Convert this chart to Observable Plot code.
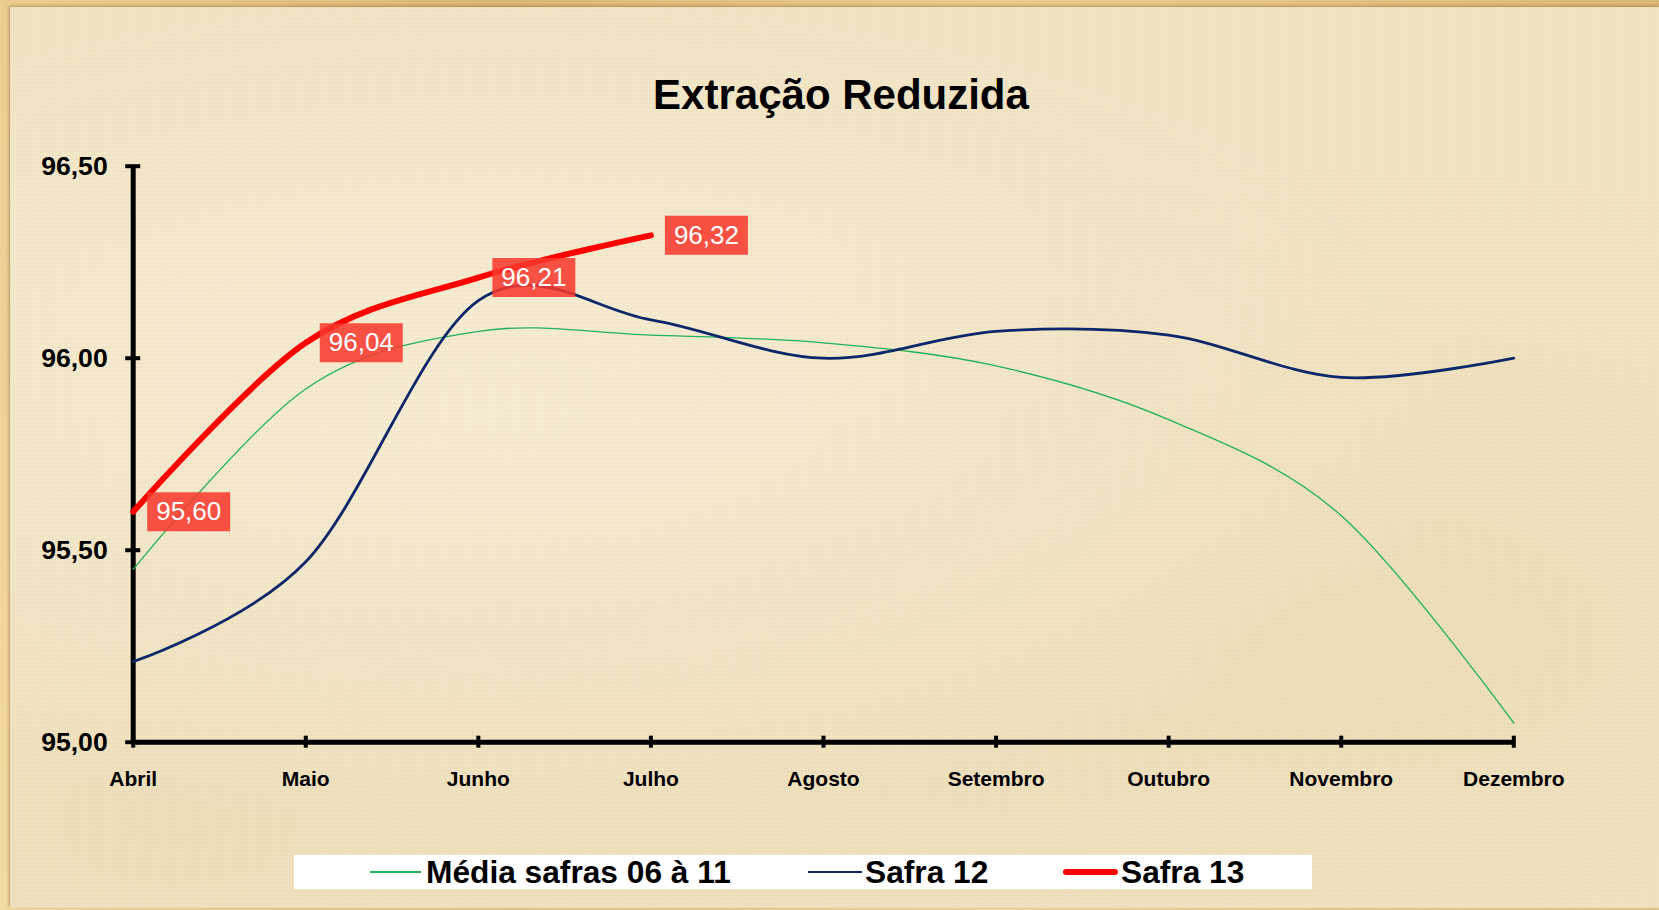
<!DOCTYPE html>
<html>
<head>
<meta charset="utf-8">
<script src="https://cdn.jsdelivr.net/npm/d3@7"></script>
<script src="https://cdn.jsdelivr.net/npm/@observablehq/plot@0.6"></script>
<style>
  html, body { margin: 0; padding: 0; }
  body { font-family: "Liberation Sans", Arial, sans-serif; }
  #page {
    position: relative; width: 1659px; height: 910px; overflow: hidden;
    background-color: #e7c585;
    background-image:
      linear-gradient(90deg, rgba(255,235,180,0.35), rgba(200,160,90,0.2) 30%, rgba(255,235,180,0.3) 60%, rgba(210,170,100,0.25)),
      linear-gradient(0deg, rgba(255,240,200,0.3), rgba(200,160,90,0.2));
  }
  #panel {
    position: absolute; left: 10px; top: 7px; right: 0; bottom: 2px;
    background-color: #f2e5c6;
    background-image:
      repeating-linear-gradient(90deg, rgba(185,155,95,0.05) 0px, rgba(185,155,95,0.05) 1px, transparent 1px, transparent 3px),
      repeating-linear-gradient(0deg, rgba(185,155,95,0.05) 0px, rgba(185,155,95,0.05) 1px, transparent 1px, transparent 4px),
      radial-gradient(ellipse at 30% 45%, rgba(255,250,235,0.45), transparent 60%),
      radial-gradient(ellipse at 80% 70%, rgba(225,200,150,0.22), transparent 55%),
      radial-gradient(ellipse at 10% 90%, rgba(225,200,150,0.18), transparent 50%);
    box-shadow: -1px -1px 3px rgba(110,80,30,0.45);
  }
  #chart { position: absolute; left: 0; top: 0; }
  #title {
    position: absolute; left: 841px; top: 73.5px; transform: translateX(-50%);
    font-size: 42px; line-height: 42px; font-weight: bold; color: #000; white-space: nowrap;
  }
  #legend {
    position: absolute; left: 294px; top: 855px; width: 1018px; height: 34px; background: #fff;
  }
  .sw { position: absolute; top: 17px; }
  .lab {
    position: absolute; top: 1.5px; font-size: 31.7px; line-height: 31.7px; font-weight: bold;
    color: #000; white-space: nowrap;
  }
</style>
</head>
<body>
<div id="page">
  <div id="panel"></div>
  <div id="title">Extração Reduzida</div>
  <div id="chart"></div>
  <div id="legend"></div>
</div>
<script>
// ---- Data ----
const months = ["Abril", "Maio", "Junho", "Julho", "Agosto", "Setembro", "Outubro", "Novembro", "Dezembro"];
const media = [95.45, 95.92, 96.07, 96.06, 96.04, 95.98, 95.84, 95.59, 95.05];
const safra12 = [95.21, 95.47, 96.15, 96.10, 96.00, 96.07, 96.06, 95.95, 96.00];
const safra13 = [95.60, 96.04, 96.21, 96.32];
const yTicks = [95.0, 95.5, 96.0, 96.5];
const seriesNames = ["Média safras 06 à 11", "Safra 12", "Safra 13"];
const seriesColors = ["#22b25a", "#0c276a", "#ff0000"];
const seriesWidths = [1.3, 2.8, 6];

const fmt = d => d.toFixed(2).replace(".", ",");
const toRows = vals => vals.map((v, i) => ({mes: months[i], v}));
const mediaRows = toRows(media);
const s12Rows = toRows(safra12);
const s13Rows = toRows(safra13);

const boxSymbol = {
  draw(context) { context.rect(-41.5, -19.5, 83, 39); }
};

const chart = Plot.plot({
  width: 1659,
  height: 910,
  marginTop: 165.7,
  marginBottom: 168.3,
  marginLeft: 132.7,
  marginRight: 145.7,
  style: {background: "transparent", fontFamily: "'Liberation Sans', Arial, sans-serif", color: "#000", overflow: "visible"},
  x: {type: "point", domain: months, padding: 0, round: false},
  y: {domain: [95, 96.5]},
  marks: [
    Plot.ruleX([months[0]], {stroke: "#000", strokeWidth: 5}),
    Plot.ruleY([95], {stroke: "#000", strokeWidth: 5}),
    Plot.axisY({ticks: yTicks, tickFormat: fmt, tickSize: 15, dx: 7.5, tickPadding: 18, strokeWidth: 4, fontSize: 26.6, fontWeight: "bold", label: null}),
    Plot.axisX({tickSize: 12, dy: -6, tickPadding: 22.4, strokeWidth: 4, fontSize: 21, fontWeight: "bold", label: null}),
    Plot.line(mediaRows, {x: "mes", y: "v", stroke: seriesColors[0], strokeWidth: seriesWidths[0], curve: "cardinal"}),
    Plot.line(s12Rows, {x: "mes", y: "v", stroke: seriesColors[1], strokeWidth: seriesWidths[1], curve: "cardinal"}),
    Plot.line(s13Rows, {x: "mes", y: "v", stroke: seriesColors[2], strokeWidth: seriesWidths[2], curve: "cardinal", strokeLinecap: "round"}),
    Plot.dot(s13Rows, {x: "mes", y: "v", symbol: boxSymbol, fill: "#f8382c", fillOpacity: 0.86, stroke: "none", dx: 55.5}),
    Plot.text(s13Rows, {x: "mes", y: "v", text: d => fmt(d.v), dx: 55.5, fill: "#fff", fontSize: 26})
  ]
});
document.getElementById("chart").appendChild(chart);

// ---- Legend ----
const legendPos = [
  {sw: 76, swW: 51, lab: 132},
  {sw: 514, swW: 54, lab: 571},
  {sw: 769, swW: 55, lab: 827}
];
const legend = document.getElementById("legend");
seriesNames.forEach((name, i) => {
  const p = legendPos[i];
  const sw = document.createElement("div");
  sw.className = "sw";
  sw.style.left = p.sw + "px";
  sw.style.width = p.swW + "px";
  sw.style.height = seriesWidths[i] + "px";
  sw.style.marginTop = (-seriesWidths[i] / 2) + "px";
  sw.style.background = seriesColors[i];
  sw.style.borderRadius = i === 2 ? "3px" : "0";
  legend.appendChild(sw);
  const lab = document.createElement("div");
  lab.className = "lab";
  lab.style.left = p.lab + "px";
  lab.textContent = name;
  legend.appendChild(lab);
});
</script>
</body>
</html>
